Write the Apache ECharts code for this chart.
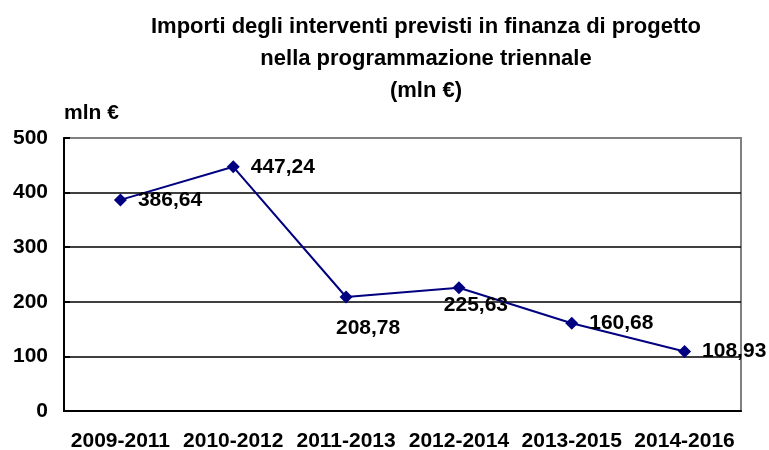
<!DOCTYPE html>
<html>
<head>
<meta charset="utf-8">
<script src="https://cdn.jsdelivr.net/npm/echarts@6/dist/echarts.min.js"></script>
<style>
  html, body { margin: 0; padding: 0; background: #fff; }
  #chart { width: 769px; height: 450px; }
</style>
</head>
<body>
<div id="chart"></div>
<script>
// data
const categories = ['2009-2011', '2010-2012', '2011-2013', '2012-2014', '2013-2015', '2014-2016'];
const amounts = [386.64, 447.24, 208.78, 225.63, 160.68, 108.93];
// where each value label sits relative to its point
const labelSide = ['right', 'right', 'below', 'below', 'right', 'right'];

const chart = echarts.init(document.getElementById('chart'), null, { renderer: 'canvas' });
const font = 'Liberation Sans, Arial, sans-serif';

// the two "below" labels are not placed the same way in the original
const belowOffsets = { 2: [22, 6], 3: [17, -8] };

const seriesData = amounts.map(function (v, i) {
  const below = labelSide[i] === 'below';
  return {
    value: v,
    label: below
      ? { position: 'bottom', distance: 8, offset: belowOffsets[i] }
      : { position: 'right', distance: 11 }
  };
});

const option = {
  animation: false,
  title: {
    text: 'Importi degli interventi previsti in finanza di progetto\nnella programmazione triennale\n(mln €)',
    left: 421,
    textAlign: 'center',
    top: 6,
    textStyle: { fontFamily: font, fontWeight: 'bold', fontSize: 22, lineHeight: 32, color: '#000' }
  },
  grid: {
    left: 64, right: 28, top: 138, bottom: 39,
    outerBoundsMode: 'none',
    containLabel: false,
    show: true, borderColor: '#808080', borderWidth: 2, backgroundColor: '#fff'
  },
  xAxis: {
    type: 'category',
    data: categories,
    boundaryGap: true,
    axisLine: { lineStyle: { color: '#000', width: 2 } },
    axisTick: { inside: true, length: 6, lineStyle: { color: '#000', width: 2 } },
    axisLabel: { interval: 0, fontFamily: font, fontWeight: 'bold', fontSize: 21, color: '#000', margin: 20 }
  },
  yAxis: {
    type: 'value',
    min: 0, max: 500, interval: 100,
    name: 'mln €',
    nameLocation: 'end',
    nameGap: 14,
    nameTextStyle: { fontFamily: font, fontWeight: 'bold', fontSize: 21, color: '#000', align: 'left' },
    axisLine: { show: true, lineStyle: { color: '#000', width: 2 } },
    axisTick: { show: true, inside: true, length: 6, lineStyle: { color: '#000', width: 2 } },
    axisLabel: { fontFamily: font, fontWeight: 'bold', fontSize: 21, color: '#000', margin: 16 },
    splitLine: { show: true, showMaxLine: false, lineStyle: { color: '#000', width: 1.5 } }
  },
  series: [{
    type: 'line',
    data: seriesData,
    symbol: 'diamond',
    symbolSize: 13,
    itemStyle: { color: '#000080' },
    lineStyle: { color: '#000080', width: 2 },
    label: {
      show: true,
      fontFamily: font, fontWeight: 'bold', fontSize: 21, color: '#000',
      formatter: function (p) { return p.value.toFixed(2).replace('.', ','); }
    }
  }]
};

chart.setOption(option);
</script>
</body>
</html>
